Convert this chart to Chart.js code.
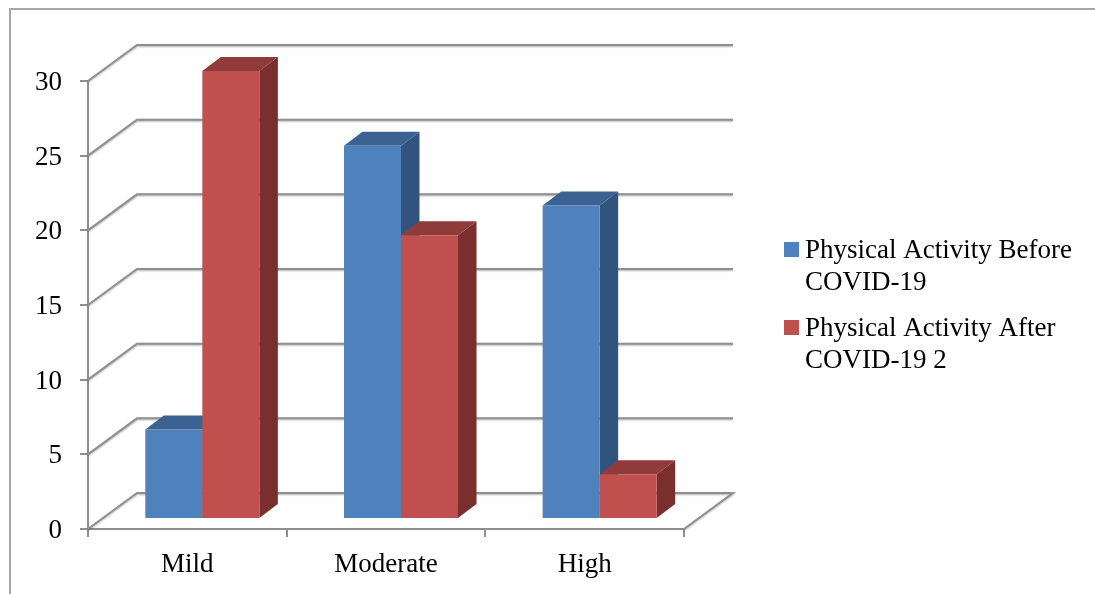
<!DOCTYPE html>
<html>
<head>
<meta charset="utf-8">
<title>Physical activity before and after COVID-19</title>
<script src="https://cdn.jsdelivr.net/npm/chart.js@4/dist/chart.umd.min.js"></script>
<style>
  html, body { margin: 0; padding: 0; background: #fff; overflow: hidden; }
  canvas { display: block; }
</style>
</head>
<body>
<canvas id="chart" width="1095" height="594"></canvas>
<script>
// Values
const categories = ['Mild', 'Moderate', 'High'];
const beforeValues = [6, 25, 21];
const afterValues = [30, 19, 3];
const yTicks = [0, 5, 10, 15, 20, 25, 30];
const beforeLabel = 'Physical Activity Before COVID-19';
const afterLabel = 'Physical Activity After COVID-19 2';

const FONT = '"Liberation Serif", serif';
const FONT_SIZE = 27;
const LINE = '#8f8f8f';

// Offsets of the fake 3D box
const WALL_DX = 49, WALL_DY = -36;    // front plane -> back wall
const BAR_DX = 15, BAR_DY = -10;      // front plane -> bar front
const DEPTH_DX = 18.5, DEPTH_DY = -14; // bar front -> bar back

function poly(ctx, pts, color) {
  ctx.beginPath();
  pts.forEach((p, i) => i ? ctx.lineTo(p[0], p[1]) : ctx.moveTo(p[0], p[1]));
  ctx.closePath();
  ctx.fillStyle = color;
  ctx.fill();
}

// Outer frame
const framePlugin = {
  id: 'frame',
  beforeDraw(chart) {
    const { ctx } = chart;
    ctx.save();
    ctx.strokeStyle = '#a6a6a6';
    ctx.lineWidth = 2;
    ctx.beginPath();
    ctx.moveTo(10, 594);
    ctx.lineTo(10, 9);
    ctx.lineTo(1095, 9);
    ctx.stroke();
    ctx.restore();
  }
};

// Back wall and floor lines, then the bars with their top and side faces.
// Blue has to go down first so the red faces cover it, which is the opposite
// of the library's draw order, so the datasets are drawn here instead.
const boxPlugin = {
  id: 'box',
  beforeDatasetsDraw(chart) {
    const { ctx, chartArea: a, scales: { y } } = chart;
    ctx.save();
    ctx.strokeStyle = LINE;
    ctx.lineWidth = 2;
    ctx.shadowColor = 'rgba(0,0,0,0.3)';
    ctx.shadowBlur = 2;
    ctx.shadowOffsetY = 1;
    yTicks.forEach(v => {
      const py = y.getPixelForValue(v);
      ctx.beginPath();
      ctx.moveTo(a.left, py);
      ctx.lineTo(a.left + WALL_DX, py + WALL_DY);
      ctx.lineTo(a.right + WALL_DX, py + WALL_DY);
      if (v === 0) ctx.lineTo(a.right, py);
      ctx.stroke();
    });
    ctx.restore();

    chart.data.datasets.forEach((ds, i) => {
      const meta = chart.getDatasetMeta(i);
      ctx.save();
      ctx.translate(BAR_DX, BAR_DY);
      meta.data.forEach(bar => {
        const l = bar.x - bar.width / 2, r = bar.x + bar.width / 2;
        poly(ctx, [[l, bar.y], [r, bar.y], [r + DEPTH_DX, bar.y + DEPTH_DY], [l + DEPTH_DX, bar.y + DEPTH_DY]], ds.topColor);
        poly(ctx, [[r, bar.y], [r + DEPTH_DX, bar.y + DEPTH_DY], [r + DEPTH_DX, bar.base + DEPTH_DY], [r, bar.base]], ds.sideColor);
      });
      meta.controller.draw();
      ctx.restore();
    });
    return false;
  }
};

// Legend on the right, wrapped in two lines like the original
const legendPlugin = {
  id: 'sideLegend',
  afterDraw(chart) {
    const { ctx } = chart;
    const rows = [[242, 258], [320, 336]];
    ctx.save();
    ctx.font = FONT_SIZE + 'px ' + FONT;
    ctx.textBaseline = 'alphabetic';
    chart.data.datasets.forEach((ds, i) => {
      const [swatchY, baseY] = rows[i];
      ctx.fillStyle = ds.backgroundColor;
      ctx.fillRect(784, swatchY, 15, 15);
      ctx.fillStyle = '#000';
      const words = ds.label.split(' ');
      ctx.fillText(words.slice(0, 3).join(' '), 805, baseY);
      ctx.fillText(words.slice(3).join(' '), 805, baseY + 32);
    });
    ctx.restore();
  }
};

new Chart(document.getElementById('chart'), {
  type: 'bar',
  data: {
    labels: categories,
    datasets: [
      { label: beforeLabel, data: beforeValues, backgroundColor: '#4f81bd', topColor: '#3c6291', sideColor: '#31547f' },
      { label: afterLabel, data: afterValues, backgroundColor: '#c0504d', topColor: '#8f3b39', sideColor: '#7a2f2e' }
    ]
  },
  options: {
    responsive: false,
    animation: false,
    layout: { padding: { top: 81, right: 411, left: 0, bottom: 0 } },
    categoryPercentage: 0.574,
    barPercentage: 1,
    plugins: { legend: { display: false }, tooltip: { enabled: false } },
    scales: {
      x: {
        afterFit(scale) { scale.height = 65; },
        border: { color: LINE, width: 2 },
        grid: { drawOnChartArea: false, color: LINE, lineWidth: 2, tickLength: 8 },
        ticks: { color: '#000', font: { family: FONT, size: FONT_SIZE }, padding: 12, maxRotation: 0 }
      },
      y: {
        min: 0,
        max: 30,
        afterFit(scale) { scale.width = 88; },
        border: { color: LINE, width: 2 },
        grid: { drawOnChartArea: false, color: LINE, lineWidth: 2, tickLength: 8 },
        ticks: { stepSize: 5, color: '#000', font: { family: FONT, size: FONT_SIZE }, padding: 18, labelOffset: 2 }
      }
    }
  },
  plugins: [framePlugin, boxPlugin, legendPlugin]
});
</script>
</body>
</html>
